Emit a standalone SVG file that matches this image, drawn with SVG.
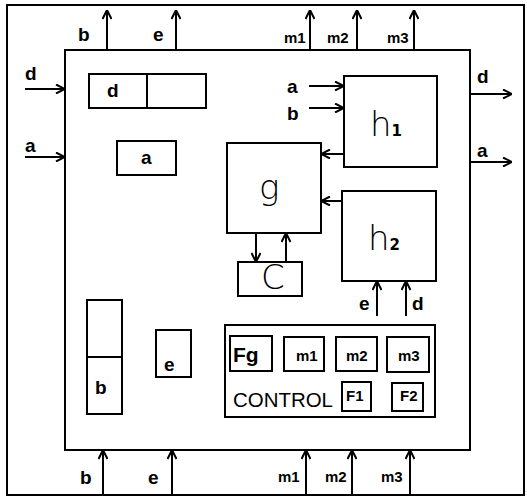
<svg xmlns="http://www.w3.org/2000/svg" width="527" height="501" viewBox="0 0 527 501">
<defs>
<marker id="ah" viewBox="0 0 10 10" refX="10" refY="5" markerWidth="10" markerHeight="10" markerUnits="userSpaceOnUse" orient="auto">
<polyline points="1,0.5 10,5 1,9.5" fill="none" stroke="#000" stroke-width="2"/>
</marker>
</defs>
<style>
.box{fill:#fff;stroke:#000;stroke-width:2}
.ln{fill:none;stroke:#000;stroke-width:2;marker-end:url(#ah)}
.lb{font-family:"Liberation Sans",Arial,sans-serif;font-weight:bold;font-size:19px;fill:#000}
.sm{font-family:"Liberation Sans",Arial,sans-serif;font-weight:bold;font-size:15px;fill:#000}
.big{font-family:"DejaVu Sans",sans-serif;font-weight:200;font-size:34px;fill:#000}
.mid{font-family:"Liberation Sans",Arial,sans-serif;font-size:21px;fill:#000}
</style>
<rect width="527" height="501" fill="#fff"/>
<g id="frame"><rect class="box" x="7" y="5" width="517" height="490" fill="none"/></g>
<g id="system"><rect class="box" x="65" y="50" width="405" height="400"/></g>

<g id="connectors">
<line class="ln" x1="107" y1="50" x2="107" y2="10"/>
<line class="ln" x1="176" y1="50" x2="176" y2="10"/>
<line class="ln" x1="310" y1="50" x2="310" y2="10"/>
<line class="ln" x1="357" y1="50" x2="357" y2="10"/>
<line class="ln" x1="414" y1="50" x2="414" y2="10"/>
<line class="ln" x1="25" y1="89" x2="65" y2="89"/>
<line class="ln" x1="25" y1="157" x2="65" y2="157"/>
<line class="ln" x1="470" y1="94" x2="512" y2="94"/>
<line class="ln" x1="470" y1="162" x2="512" y2="162"/>
<line class="ln" x1="309" y1="86" x2="344" y2="86"/>
<line class="ln" x1="309" y1="108" x2="344" y2="108"/>
<line class="ln" x1="344" y1="154" x2="321" y2="154"/>
<line class="ln" x1="342" y1="201" x2="321" y2="201"/>
<line class="ln" x1="377" y1="316" x2="377" y2="281"/>
<line class="ln" x1="406" y1="316" x2="406" y2="281"/>
<line class="ln" x1="256" y1="233" x2="256" y2="262"/>
<line class="ln" x1="286" y1="262" x2="286" y2="233"/>
<line class="ln" x1="103" y1="494" x2="103" y2="450"/>
<line class="ln" x1="172" y1="494" x2="172" y2="450"/>
<line class="ln" x1="306" y1="494" x2="306" y2="450"/>
<line class="ln" x1="352" y1="494" x2="352" y2="450"/>
<line class="ln" x1="410" y1="494" x2="410" y2="450"/>
</g>

<g id="labels">
<text class="lb" x="78" y="41">b</text>
<text class="lb" x="153" y="41">e</text>
<text class="sm" x="284" y="43">m1</text>
<text class="sm" x="327" y="43">m2</text>
<text class="sm" x="387" y="43">m3</text>
<text class="lb" x="25" y="80">d</text>
<text class="lb" x="25" y="152">a</text>
<text class="lb" x="477" y="83">d</text>
<text class="lb" x="477" y="157">a</text>
<text class="lb" x="287" y="93">a</text>
<text class="lb" x="287" y="120">b</text>
<text class="lb" x="359" y="310">e</text>
<text class="lb" x="412" y="310">d</text>
<text class="lb" x="80" y="484">b</text>
<text class="lb" x="148" y="484">e</text>
<text class="sm" x="278" y="482">m1</text>
<text class="sm" x="325" y="482">m2</text>
<text class="sm" x="381" y="482">m3</text>
</g>

<g id="reg-d">
<rect class="box" x="89" y="74" width="117" height="34"/>
<line x1="147" y1="74" x2="147" y2="108" stroke="#000" stroke-width="2"/>
<text class="lb" x="107" y="97">d</text>
</g>
<g id="reg-a">
<rect class="box" x="117" y="141" width="59" height="34"/>
<text class="lb" x="141" y="164">a</text>
</g>
<g id="g">
<rect class="box" x="227" y="143" width="94" height="90"/>
<text class="big" x="259" y="199">g</text>
</g>
<g id="h1">
<rect class="box" x="344" y="76" width="93" height="91"/>
<text class="big" x="370" y="136">h<tspan font-size="15" font-weight="bold">1</tspan></text>
</g>
<g id="h2">
<rect class="box" x="342" y="191" width="94" height="90"/>
<text class="big" x="368" y="250">h<tspan font-size="15" font-weight="bold">2</tspan></text>
</g>
<g id="c">
<rect class="box" x="238" y="262" width="64" height="34"/>
<text class="big" font-size="28" x="261" y="289">C</text>
</g>
<g id="reg-b">
<rect class="box" x="87" y="300" width="35" height="114"/>
<line x1="87" y1="357" x2="122" y2="357" stroke="#000" stroke-width="2"/>
<text class="lb" x="95" y="394">b</text>
</g>
<g id="reg-e">
<rect class="box" x="156" y="330" width="35" height="47"/>
<text class="lb" x="164" y="371">e</text>
</g>
<g id="control">
<rect class="box" x="225" y="325" width="210" height="92"/>
<rect class="box" x="230" y="336" width="42" height="35"/>
<text class="mid" font-weight="bold" x="233" y="362">Fg</text>
<rect class="box" x="284" y="337" width="40" height="34"/>
<text class="sm" x="296" y="361">m1</text>
<rect class="box" x="336" y="337" width="41" height="34"/>
<text class="sm" x="346" y="361">m2</text>
<rect class="box" x="387" y="337" width="42" height="35"/>
<text class="sm" x="398" y="361">m3</text>
<text class="mid" x="233" y="407" font-size="22" textLength="100" lengthAdjust="spacingAndGlyphs">CONTROL</text>
<rect class="box" x="342" y="382" width="29" height="29"/>
<text class="sm" font-size="12" x="346" y="401">F1</text>
<rect class="box" x="392" y="383" width="31" height="28"/>
<text class="sm" font-size="12" x="400" y="401">F2</text>
</g>
</svg>
